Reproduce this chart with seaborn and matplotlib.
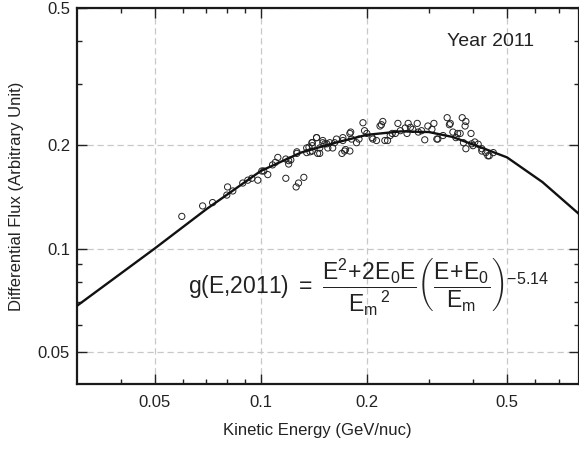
import pandas as pd
import seaborn as sns
import matplotlib.pyplot as plt
from matplotlib.ticker import FixedLocator, FixedFormatter, NullFormatter

# fitted curve g(E, 2011)
curve_energy = [0.03, 0.05, 0.07, 0.1, 0.13, 0.16, 0.2, 0.25, 0.3, 0.35, 0.42, 0.5, 0.63, 0.8]
curve_flux = [0.068, 0.100, 0.130, 0.168, 0.190, 0.202, 0.214, 0.219, 0.218, 0.211, 0.197, 0.184, 0.156, 0.126]

# measured points (open circles)
data_energy = [
    0.0597, 0.0684, 0.0730, 0.0801, 0.0805, 0.0833, 0.0889, 0.0919, 0.0943, 0.0981,
    0.1007, 0.102, 0.1047, 0.108, 0.110, 0.1118, 0.1178, 0.120, 0.1217, 0.1266,
    0.1266, 0.135, 0.137, 0.140, 0.140, 0.144, 0.145, 0.147, 0.150, 0.154,
    0.1178, 0.126, 0.128, 0.1325,
    0.120, 0.135, 0.1397, 0.144, 0.147, 0.150, 0.155, 0.160, 0.164, 0.170,
    0.173, 0.179, 0.179, 0.187, 0.195, 0.197, 0.207, 0.218, 0.222, 0.225,
    0.229, 0.236, 0.245, 0.257, 0.260, 0.262, 0.278, 0.292, 0.298, 0.310,
    0.316, 0.329, 0.338, 0.343, 0.351, 0.373, 0.382, 0.395, 0.414, 0.424,
    0.441,
    0.138, 0.140, 0.152, 0.162, 0.171, 0.181, 0.190, 0.200, 0.208, 0.213,
    0.233, 0.241, 0.249, 0.266, 0.270, 0.280, 0.286, 0.306, 0.318, 0.358,
    0.362, 0.397, 0.405,
    0.345, 0.380, 0.368, 0.382, 0.400, 0.424, 0.435, 0.445, 0.457, 0.376,
    0.157, 0.171, 0.180, 0.220, 0.174,
]
data_flux = [
    0.124, 0.133, 0.136, 0.143, 0.151, 0.147, 0.155, 0.158, 0.160, 0.158,
    0.168, 0.168, 0.164, 0.175, 0.178, 0.184, 0.182, 0.176, 0.181, 0.191,
    0.189, 0.190, 0.197, 0.192, 0.203, 0.210, 0.189, 0.196, 0.203, 0.2015,
    0.160, 0.151, 0.155, 0.161,
    0.180, 0.196, 0.203, 0.210, 0.189, 0.206, 0.196, 0.196, 0.208, 0.189,
    0.192, 0.192, 0.216, 0.203, 0.232, 0.220, 0.210, 0.227, 0.234, 0.206,
    0.206, 0.216, 0.231, 0.224, 0.216, 0.231, 0.231, 0.207, 0.227, 0.231,
    0.208, 0.213, 0.240, 0.229, 0.218, 0.240, 0.234, 0.216, 0.201, 0.195,
    0.186,
    0.191, 0.199, 0.2015, 0.203, 0.206, 0.208, 0.208, 0.216, 0.208, 0.206,
    0.213, 0.216, 0.220, 0.225, 0.222, 0.218, 0.220, 0.222, 0.208, 0.210,
    0.216, 0.2015, 0.204,
    0.231, 0.227, 0.216, 0.195, 0.199, 0.192, 0.190, 0.186, 0.190, 0.203,
    0.203, 0.210, 0.218, 0.229, 0.194,
]

x_ticks = [0.05, 0.1, 0.2, 0.5]
x_tick_labels = ['0.05', '0.1', '0.2', '0.5']
x_minor = [0.03, 0.04, 0.06, 0.07, 0.08, 0.09, 0.3, 0.4, 0.6, 0.7]
y_ticks = [0.05, 0.1, 0.2, 0.5]
y_tick_labels = ['0.05', '0.1', '0.2', '0.5']
y_minor = [0.06, 0.07, 0.08, 0.09, 0.3, 0.4]

points = pd.DataFrame({'energy': data_energy, 'flux': data_flux})
curve = pd.DataFrame({'energy': curve_energy, 'flux': curve_flux})

sns.set_style('ticks')
plt.rcParams['font.family'] = ['Liberation Sans', 'DejaVu Sans']
plt.rcParams['mathtext.fontset'] = 'custom'
plt.rcParams['mathtext.rm'] = 'Liberation Sans'
plt.rcParams['mathtext.it'] = 'Liberation Sans'
plt.rcParams['mathtext.bf'] = 'Liberation Sans:bold'

fig = plt.figure(figsize=(5.79, 4.49), dpi=100)
ax = fig.add_axes([0.133, 0.1448, 0.867, 0.8374])
ax.set_xscale('log')
ax.set_yscale('log')

sns.scatterplot(data=points, x='energy', y='flux', ax=ax, marker='o', s=20,
                facecolor='none', edgecolor='#222222', linewidth=0.7, zorder=2)
sns.lineplot(data=curve, x='energy', y='flux', ax=ax, color='#111111',
             linewidth=1.7, sort=False, zorder=3)

ax.set_xlim(0.0301, 0.80)
ax.set_ylim(0.0404, 0.5)

ax.xaxis.set_major_locator(FixedLocator(x_ticks))
ax.xaxis.set_major_formatter(FixedFormatter(x_tick_labels))
ax.xaxis.set_minor_locator(FixedLocator(x_minor))
ax.xaxis.set_minor_formatter(NullFormatter())
ax.yaxis.set_major_locator(FixedLocator(y_ticks))
ax.yaxis.set_major_formatter(FixedFormatter(y_tick_labels))
ax.yaxis.set_minor_locator(FixedLocator(y_minor))
ax.yaxis.set_minor_formatter(NullFormatter())

ax.tick_params(which='both', direction='in', top=True, right=True,
               colors='#222222', labelsize=12, width=1.0)
ax.tick_params(axis='x', which='major', length=7, pad=8)
ax.tick_params(axis='y', which='major', length=7, pad=5)
ax.tick_params(which='minor', length=3.5)

ax.grid(which='major', linestyle=(0, (5, 3)), color='#c8c8c8', linewidth=0.9)
ax.set_axisbelow(True)
for side in ['left', 'bottom', 'top', 'right']:
    ax.spines[side].set_linewidth(1.6)
    ax.spines[side].set_color('#1a1a1a')

ax.set_xlabel('Kinetic Energy (GeV/nuc)', fontsize=12, color='#222222')
ax.set_ylabel('Differential Flux (Arbitrary Unit)', fontsize=12, color='#222222')
ax.xaxis.set_label_coords(0.478, -0.124)
ax.xaxis.label.set_va('center')
ax.yaxis.set_label_coords(-0.12, 0.5)
ax.yaxis.label.set_va('center')

ax.text(0.823, 0.912, 'Year 2011', transform=ax.transAxes, fontsize=14,
        ha='center', va='center', color='#222222')
formula = (r'$\mathrm{g(E{,}2011)\ =\ \dfrac{E^2\!+\!2E_0E}{{E_m}^{\,2}}'
           r'\left(\dfrac{E\!+\!E_0}{E_m}\right)^{-5.14}}$')
ax.text(0.58, 0.258, formula, transform=ax.transAxes, fontsize=16.5,
        ha='center', va='center', color='#222222')

fig.savefig('out.png', dpi=100)
